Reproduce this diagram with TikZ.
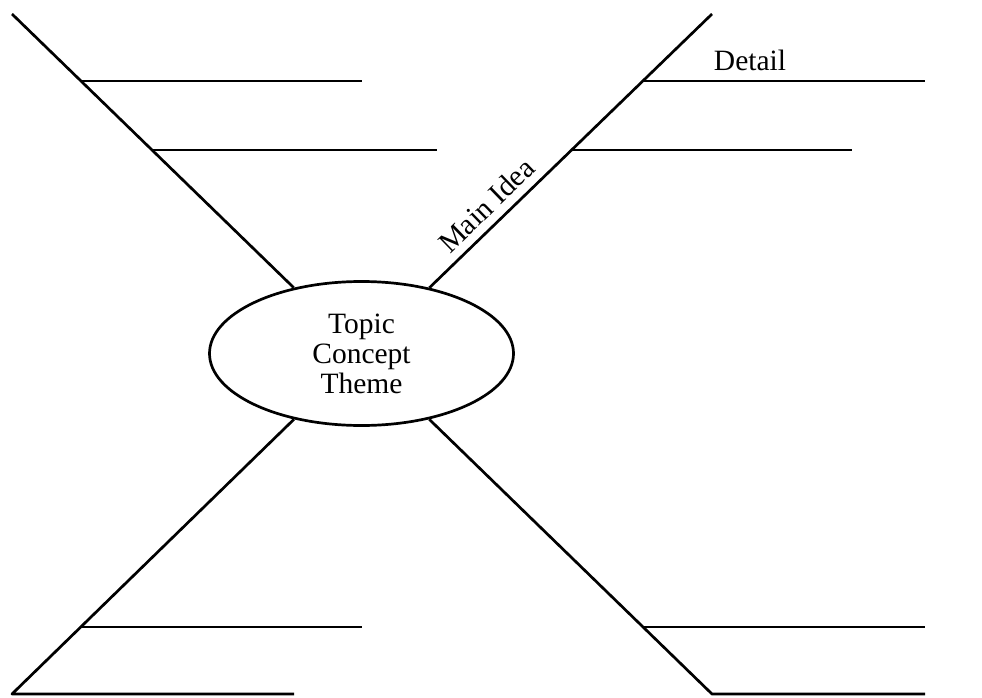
\documentclass[tikz,border=0pt]{standalone}
\usepackage{fontspec}
\setmainfont{Liberation Serif}
\usetikzlibrary{shapes.geometric}
\begin{document}
\begin{tikzpicture}[x=1pt,y=-1pt,
  stroke/.style={line width=2.7pt,line join=round},
  lbl/.style={font=\fontsize{29.5}{30}\selectfont,inner sep=0pt},
  topicbox/.style={ellipse,draw,line width=2.7pt,minimum width=304pt,minimum height=144pt,inner sep=0pt,align=center,font=\fontsize{29.5}{30}\selectfont}]
\useasboundingbox (0,0) rectangle (982,698);
\node[topicbox] (topic) at (361.5,353.5) {Topic\\Concept\\Theme};
% end points
\coordinate (ULe) at (12,14);
\coordinate (URe) at (712,14);
\coordinate (LLe) at (12,694);
\coordinate (LRe) at (712,694);
% junctions
\coordinate (UL1) at (81,81);   \coordinate (UL1e) at (362,81);
\coordinate (UL2) at (152,150); \coordinate (UL2e) at (437,150);
\coordinate (UR1) at (642.8,81); \coordinate (UR1e) at (925,81);
\coordinate (UR2) at (571.6,150); \coordinate (UR2e) at (852,150);
\coordinate (LL1) at (80.8,627); \coordinate (LL1e) at (362,627);
\coordinate (LLb) at (294,694);
\coordinate (LR1) at (643,627); \coordinate (LR1e) at (925,627);
\coordinate (LRb) at (925,694);
% spokes
\draw[stroke] (topic) -- (ULe);
\draw[stroke] (topic) -- node[lbl,pos=0.25,sloped,above=8pt] (mainidea) {Main Idea} (URe);
\draw[stroke] (topic) -- (LLe) -- (LLb);
\draw[stroke] (topic) -- (LRe) -- (LRb);
% details
\draw[stroke] (UL1) -- (UL1e);
\draw[stroke] (UL2) -- (UL2e);
\draw[stroke] (UR1) -- (UR1e);
\draw[stroke] (UR2) -- (UR2e);
\draw[stroke] (LL1) -- (LL1e);
\draw[stroke] (LR1) -- (LR1e);
\node[lbl,anchor=base] (detail) at (750,70.7) {Detail};
\end{tikzpicture}
\end{document}
